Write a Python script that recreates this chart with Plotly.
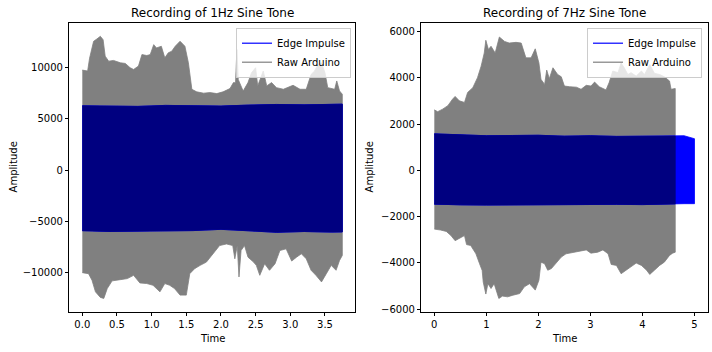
import plotly.graph_objects as go

# ---------------- data (envelopes) ----------------
# Left panel: 1Hz recording
l_raw_up_t = [0.0, 0.077, 0.105, 0.163, 0.21, 0.26, 0.30, 0.33, 0.38, 0.45, 0.55, 0.62, 0.69, 0.74,
              0.81, 0.86, 0.93, 0.98, 1.03, 1.07, 1.14, 1.19, 1.24, 1.29, 1.34, 1.41, 1.48, 1.53,
              1.58, 1.65, 1.75, 1.84, 1.94, 2.03, 2.13, 2.18, 2.21, 2.23, 2.25, 2.32, 2.39, 2.44,
              2.50, 2.53, 2.61, 2.66, 2.73, 2.80, 2.90, 3.04, 3.14, 3.23, 3.30, 3.35, 3.40, 3.45,
              3.50, 3.54, 3.64, 3.67, 3.71, 3.75]
l_raw_up = [9740, 9650, 10900, 12540, 12770, 13030, 12700, 11100, 10610, 10680, 10450, 10390, 9970, 9800,
            10130, 11250, 11160, 11250, 12220, 11900, 12060, 10930, 11420, 11580, 12060, 12550, 12060, 10450,
            7870, 7620, 7490, 7550, 7450, 7620, 7940, 8520, 8500, 11740, 8810, 7700, 8520, 9480,
            9970, 8200, 9650, 8200, 8520, 8030, 7870, 8260, 7870, 7870, 9320, 9650, 10290, 10450,
            9480, 8030, 7870, 8680, 7710, 7390]
l_raw_lo_t = [0.0, 0.09, 0.14, 0.19, 0.26, 0.31, 0.36, 0.43, 0.55, 0.65, 0.74, 0.83, 0.93, 1.02,
              1.12, 1.19, 1.26, 1.33, 1.41, 1.50, 1.55, 1.62, 1.70, 1.79, 1.89, 1.98, 2.08, 2.17,
              2.20, 2.235, 2.26, 2.29, 2.34, 2.39, 2.47, 2.51, 2.56, 2.63, 2.70, 2.78, 2.85, 2.94,
              3.02, 3.09, 3.16, 3.23, 3.30, 3.37, 3.45, 3.52, 3.59, 3.66, 3.71, 3.75]
l_raw_lo = [-10000, -10100, -10740, -11870, -12410, -12510, -11550, -10800, -10680, -10580, -10260, -11000, -11060, -11230,
            -11870, -11060, -11230, -11550, -12190, -12190, -10100, -9610, -9290, -8970, -8160, -7360, -7200, -7360,
            -8650, -7360, -10420, -7840, -7360, -8490, -8970, -9290, -10260, -9130, -9770, -9130, -7840, -7680,
            -8870, -8490, -8160, -8650, -9770, -10260, -10900, -10100, -9290, -9770, -8810, -8320]
l_edge_t = [0.0, 0.4, 0.8, 1.2, 1.6, 2.0, 2.4, 2.8, 3.2, 3.6, 3.75]
l_edge_up = [6260, 6230, 6200, 6300, 6250, 6230, 6330, 6390, 6350, 6400, 6420]
l_edge_lo = [-5910, -5980, -6000, -5950, -5900, -5780, -5920, -6070, -5990, -6050, -6030]

# Right panel: 7Hz recording
r_raw_up_t = [0.0, 0.065, 0.16, 0.26, 0.35, 0.40, 0.48, 0.58, 0.64, 0.74, 0.83, 0.90, 0.96, 0.99,
              1.04, 1.09, 1.17, 1.25, 1.35, 1.44, 1.57, 1.67, 1.76, 1.86, 1.94, 2.01, 2.05, 2.12,
              2.16, 2.21, 2.28, 2.37, 2.44, 2.50, 2.60, 2.73, 2.82, 2.92, 3.01, 3.08, 3.17, 3.30,
              3.36, 3.43, 3.53, 3.59, 3.65, 3.72, 3.78, 3.88, 3.98, 4.04, 4.14, 4.23, 4.33, 4.42,
              4.52, 4.55, 4.63]
r_raw_up = [2620, 2540, 2650, 2800, 3080, 3200, 3010, 2940, 3370, 3580, 4010, 4510, 5080, 5630,
            5230, 5370, 5080, 5770, 5580, 5510, 5540, 5510, 4870, 4870, 5260, 4650, 3940, 3720,
            4340, 3970, 4440, 4150, 4050, 3650, 3620, 3600, 3510, 3680, 3650, 3820, 3620, 3480,
            3800, 4300, 4230, 4650, 4440, 4150, 4230, 4080, 4300, 4150, 4580, 4200, 4150, 4050,
            3870, 3510, 3540]
r_raw_lo_t = [0.0, 0.12, 0.23, 0.32, 0.40, 0.51, 0.58, 0.62, 0.70, 0.80, 0.87, 0.92, 0.94, 0.99,
              1.03, 1.09, 1.15, 1.24, 1.31, 1.41, 1.51, 1.64, 1.73, 1.83, 1.94, 2.01, 2.05, 2.12,
              2.18, 2.25, 2.34, 2.44, 2.53, 2.66, 2.79, 2.92, 3.01, 3.14, 3.24, 3.34, 3.40, 3.50,
              3.59, 3.69, 3.78, 3.88, 3.98, 4.08, 4.14, 4.23, 4.33, 4.42, 4.52, 4.58, 4.63]
r_raw_lo = [-2540, -2580, -2640, -2820, -3040, -2920, -2820, -3210, -3250, -3610, -4040, -4330, -4830, -5350,
            -4900, -5110, -4900, -5540, -5440, -5470, -5400, -5330, -5040, -4900, -5180, -4750, -3970, -4040,
            -4320, -4250, -4010, -3750, -3610, -3540, -3500, -3440, -3580, -3540, -3440, -3610, -4070, -4110,
            -4470, -4320, -4180, -4010, -4110, -4320, -4500, -4320, -4110, -3970, -3680, -3580, -3540]
r_edge_t = [0.0, 0.5, 1.0, 1.5, 2.0, 2.5, 3.0, 3.5, 4.0, 4.5, 4.8, 5.0]
r_edge_up = [1580, 1530, 1500, 1510, 1520, 1480, 1500, 1470, 1480, 1470, 1500, 1370]
r_edge_lo = [-1460, -1490, -1500, -1480, -1490, -1470, -1480, -1470, -1480, -1460, -1440, -1440]

panels = [
    dict(title="Recording of 1Hz Sine Tone", xr=[-0.1875, 3.9375], yr=[-13836, 14348],
         raw=(l_raw_up_t, l_raw_up, l_raw_lo_t, l_raw_lo), edge=(l_edge_t, l_edge_up, l_edge_lo),
         xfmt=".1f", dtick_x=0.5, dtick_y=5000),
    dict(title="Recording of 7Hz Sine Tone", xr=[-0.25, 5.25], yr=[-6128, 6386],
         raw=(r_raw_up_t, r_raw_up, r_raw_lo_t, r_raw_lo), edge=(r_edge_t, r_edge_up, r_edge_lo),
         xfmt="d", dtick_x=1, dtick_y=2000),
]

W, H = 712, 352
xdoms = [[69.3 / W, 355.3 / W], [421.3 / W, 707.5 / W]]
ydom = [1 - 314.7 / H, 1 - 23 / H]

FONT = "DejaVu Sans"
fig = go.Figure()

for i, p in enumerate(panels):
    xa = "x" if i == 0 else "x2"
    ya = "y" if i == 0 else "y2"
    ut, uv, lt, lv = p["raw"]
    et, eu, el = p["edge"]
    # Raw Arduino envelope
    fig.add_trace(go.Scatter(x=list(ut) + list(lt)[::-1], y=list(uv) + list(lv)[::-1],
                             fill="toself", fillcolor="#808080", mode="lines",
                             line=dict(width=0.8, color="#808080"), showlegend=False,
                             hoverinfo="skip", xaxis=xa, yaxis=ya))
    # Edge Impulse envelope (full range)
    fig.add_trace(go.Scatter(x=list(et) + list(et)[::-1], y=list(eu) + list(el)[::-1],
                             fill="toself", fillcolor="#0000ff", mode="lines",
                             line=dict(width=0.8, color="#0000ff"), showlegend=False,
                             hoverinfo="skip", xaxis=xa, yaxis=ya))
    # overlap region (dark where both series overlap)
    tmax = max(ut)
    ot = [t for t in et if t <= tmax]
    ou = [u for t, u in zip(et, eu) if t <= tmax]
    ol = [l for t, l in zip(et, el) if t <= tmax]
    if ot[-1] < tmax:
        j = len(ot)
        f = (tmax - et[j - 1]) / (et[j] - et[j - 1])
        ot.append(tmax)
        ou.append(eu[j - 1] + f * (eu[j] - eu[j - 1]))
        ol.append(el[j - 1] + f * (el[j] - el[j - 1]))
    fig.add_trace(go.Scatter(x=ot + ot[::-1], y=ou + ol[::-1],
                             fill="toself", fillcolor="#000080", mode="lines",
                             line=dict(width=0.8, color="#000080"), showlegend=False,
                             hoverinfo="skip", xaxis=xa, yaxis=ya))
    # legend entries
    leg = "legend" if i == 0 else "legend2"
    fig.add_trace(go.Scatter(x=[None], y=[None], mode="lines", name="Edge Impulse",
                             line=dict(color="rgba(0,0,255,0.8)", width=1.5),
                             xaxis=xa, yaxis=ya, legend=leg))
    fig.add_trace(go.Scatter(x=[None], y=[None], mode="lines", name="Raw Arduino",
                             line=dict(color="rgba(128,128,128,0.8)", width=1.5),
                             xaxis=xa, yaxis=ya, legend=leg))

    axcommon = dict(showline=True, linecolor="black", linewidth=0.8, mirror=True,
                    ticks="outside", ticklen=3.5, tickwidth=0.8, tickcolor="black",
                    showgrid=False, zeroline=False,
                    tickfont=dict(family=FONT, size=10, color="black"))
    key = "" if i == 0 else "2"
    fig.layout["xaxis" + key] = dict(domain=xdoms[i], range=p["xr"], anchor=ya,
                                     tickformat=p["xfmt"], dtick=p["dtick_x"], tick0=0, **axcommon)
    fig.layout["yaxis" + key] = dict(domain=ydom, range=p["yr"], anchor=xa,
                                     tickformat="d", dtick=p["dtick_y"], tick0=0, **axcommon)

    cx = (xdoms[i][0] + xdoms[i][1]) / 2
    fig.add_annotation(text=p["title"], x=cx, y=1 - 13 / H, xref="paper", yref="paper",
                       showarrow=False, xanchor="center", yanchor="middle",
                       font=dict(family=FONT, size=12, color="black"))
    fig.add_annotation(text="Time", x=cx, y=1 - 341 / H, xref="paper", yref="paper",
                       showarrow=False, xanchor="center", yanchor="middle",
                       font=dict(family=FONT, size=10, color="black"))
    fig.add_annotation(text="Amplitude", x=(13 if i == 0 else 369) / W, y=(ydom[0] + ydom[1]) / 2,
                       xref="paper", yref="paper", showarrow=False, textangle=-90,
                       xanchor="center", yanchor="middle",
                       font=dict(family=FONT, size=10, color="black"))

legstyle = dict(bgcolor="rgba(255,255,255,0.8)", bordercolor="#cccccc", borderwidth=1,
                font=dict(family=FONT, size=10, color="black"), xanchor="right", yanchor="top",
                xref="paper", yref="paper", tracegroupgap=0, itemwidth=30)
fig.update_layout(
    width=W, height=H, margin=dict(l=0, r=0, t=0, b=0),
    paper_bgcolor="white", plot_bgcolor="white",
    legend=dict(x=351 / W, y=1 - 28 / H, **legstyle),
    legend2=dict(x=702 / W, y=1 - 28 / H, **legstyle),
)

fig.write_html("out.html")
